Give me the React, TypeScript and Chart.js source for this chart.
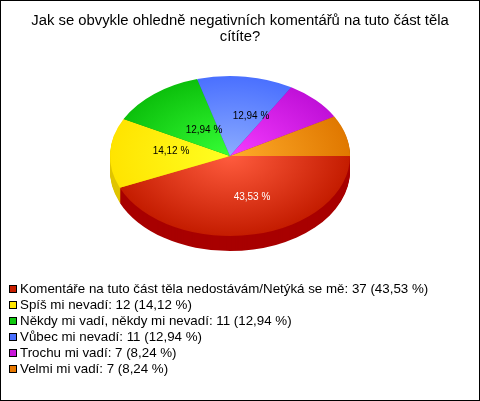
import React, { useEffect, useRef } from "react";
import { Chart, registerables } from "chart.js";

Chart.register(...registerables);

const titleLines = ["Jak se obvykle ohledně negativních komentářů na tuto část těla", "cítíte?"];
const categories = [
  "Komentáře na tuto část těla nedostávám/Netýká se mě",
  "Spíš mi nevadí",
  "Někdy mi vadí, někdy mi nevadí",
  "Vůbec mi nevadí",
  "Trochu mi vadí",
  "Velmi mi vadí",
];
const counts = [37, 12, 11, 11, 7, 7];
const percents = ["43,53", "14,12", "12,94", "12,94", "8,24", "8,24"];
const innerColors = ["#ff5c3e", "#ffff22", "#36ff36", "#8cacff", "#f63cff", "#ffac2a"];
const outerColors = ["#c41c00", "#ffe400", "#0cc00c", "#4a70ff", "#c010d8", "#e07800"];
const sideColors = ["#a80000", "#e0c400", "#089008", "#3050c0", "#9008a0", "#b05800"];
const legendColors = ["#c81e00", "#ffe600", "#10c810", "#4a70ff", "#c818d8", "#e87800"];
const labelOffsets: ([number, number] | null)[] = [[22, 41], [-59, -5], [-26, -26], [21, -40], null, null];
const labelColors = ["#ffffff", "#000000", "#000000", "#000000", "", ""];

const CX = 230, CY = 156, SQUASH = 2 / 3, DEPTH = 15, RADIUS = 120;

const piePlugin = {
  id: "pie3d",
  beforeDraw(chart: any) {
    const { ctx, width, height } = chart;
    ctx.save();
    ctx.fillStyle = "#ffffff";
    ctx.fillRect(0, 0, width, height);
    ctx.restore();
  },
  beforeDatasetsDraw(chart: any) {
    const { ctx, chartArea } = chart;
    const cy = (chartArea.top + chartArea.bottom) / 2;
    const cx = (chartArea.left + chartArea.right) / 2;
    const arcs = chart.getDatasetMeta(0).data;
    for (let d = DEPTH; d >= 1; d--) {
      arcs.forEach((arc: any, i: number) => {
        ctx.save();
        ctx.translate(CX - cx, CY + d);
        ctx.scale(1, SQUASH);
        ctx.translate(0, -cy);
        ctx.beginPath();
        ctx.moveTo(arc.x, arc.y);
        ctx.arc(arc.x, arc.y, arc.outerRadius, arc.startAngle, arc.endAngle);
        ctx.closePath();
        ctx.fillStyle = sideColors[i];
        ctx.fill();
        ctx.restore();
      });
    }
    ctx.save();
    ctx.translate(CX - cx, CY);
    ctx.scale(1, SQUASH);
    ctx.translate(0, -cy);
  },
  afterDatasetsDraw(chart: any) {
    const { ctx } = chart;
    ctx.restore();
    ctx.save();
    ctx.font = "10px 'Liberation Sans'";
    ctx.textAlign = "center";
    ctx.textBaseline = "middle";
    percents.forEach((p, i) => {
      const o = labelOffsets[i];
      if (!o) return;
      ctx.fillStyle = labelColors[i];
      ctx.fillText(`${p} %`, CX + o[0], CY + o[1]);
    });
    ctx.restore();
  },
  afterDraw(chart: any) {
    const { ctx } = chart;
    ctx.save();
    ctx.font = "13.33px 'Liberation Sans'";
    ctx.textAlign = "left";
    ctx.textBaseline = "alphabetic";
    categories.forEach((c, i) => {
      const y = 285 + i * 16;
      ctx.fillStyle = legendColors[i];
      ctx.fillRect(9, y, 8, 8);
      ctx.strokeStyle = "#000000";
      ctx.lineWidth = 1;
      ctx.strokeRect(9.5, y + 0.5, 7, 7);
      ctx.fillStyle = "#000000";
      ctx.fillText(`${c}: ${counts[i]} (${percents[i]} %)`, 20, y + 8);
    });
    ctx.strokeStyle = "#000000";
    ctx.lineWidth = 1;
    ctx.strokeRect(0.5, 0.5, 479, 400);
    ctx.restore();
  },
};

export default function App() {
  const ref = useRef<HTMLCanvasElement>(null);
  useEffect(() => {
    const chart = new Chart(ref.current as HTMLCanvasElement, {
      type: "pie",
      data: {
        labels: categories,
        datasets: [
          {
            data: counts,
            borderWidth: 0,
            backgroundColor: (c: any) => {
              const area = c.chart.chartArea;
              const i = c.dataIndex;
              if (!area) return outerColors[i];
              const cx = (area.left + area.right) / 2;
              const cy = (area.top + area.bottom) / 2;
              const g = c.chart.ctx.createRadialGradient(cx, cy, 0, cx, cy, RADIUS);
              g.addColorStop(0, innerColors[i]);
              g.addColorStop(1, outerColors[i]);
              return g;
            },
          },
        ],
      },
      options: {
        responsive: false,
        animation: false,
        rotation: 90,
        radius: RADIUS,
        layout: { padding: 0 },
        plugins: {
          legend: { display: false },
          tooltip: { enabled: false },
          title: {
            display: true,
            text: titleLines,
            color: "#000000",
            font: { family: "'Liberation Sans'", size: 14.85, weight: "normal", lineHeight: 1.07 },
            padding: { top: 13, bottom: 8 },
            align: "center",
          },
        },
      },
      plugins: [piePlugin],
    } as any);
    return () => chart.destroy();
  }, []);
  return (
    <canvas
      ref={ref}
      width={480}
      height={401}
      style={{ position: "absolute", left: 0, top: 0, display: "block" }}
    />
  );
}
